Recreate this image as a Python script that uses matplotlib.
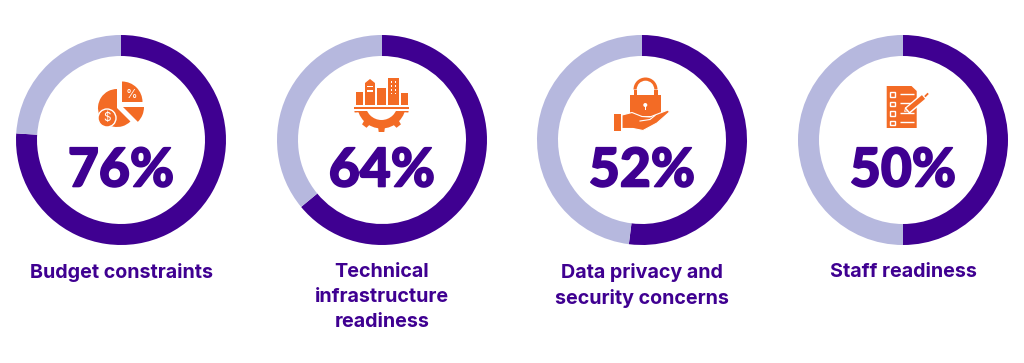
import matplotlib
matplotlib.use("Agg")
import matplotlib.pyplot as plt
import matplotlib.patheffects as pe
from matplotlib.patches import Circle, Polygon, Rectangle, Wedge
import numpy as np

W, H = 1024, 363

percent = [76, 64, 52, 50]
labels = ["Budget constraints", "Technical\ninfrastructure\nreadiness",
          "Data privacy and\nsecurity concerns", "Staff readiness"]

centers_x = [121, 382, 642, 903]
center_y = 140
radius = 105
PURPLE = "#3F0091"
LIGHT = "#B6B8DE"
ORANGE = "#F36B25"

fig = plt.figure(figsize=(W / 100, H / 100), dpi=100, facecolor="white")

# donuts, one small axes each
for cx, p in zip(centers_x, percent):
    ax = fig.add_axes([(cx - radius) / W, 1 - (center_y + radius) / H, 2 * radius / W, 2 * radius / H])
    ax.pie([p, 100 - p], colors=[PURPLE, LIGHT], startangle=90, counterclock=False,
           radius=1, wedgeprops=dict(width=0.2))
    ax.set_xlim(-1, 1)
    ax.set_ylim(-1, 1)

# overlay in pixel coords for text and icons
ov = fig.add_axes([0, 0, 1, 1])
ov.set_xlim(0, W)
ov.set_ylim(H, 0)
ov.axis("off")
ov.patch.set_alpha(0)

for cx, p, lab in zip(centers_x, percent, labels):
    ov.text(cx, 186.5, f"{p}%", ha="center", va="baseline", fontsize=38.5, fontweight=900,
            family="Lato", color=PURPLE,
            path_effects=[pe.withStroke(linewidth=1.2, foreground=PURPLE)])
    ov.text(cx, 263, lab, ha="center", va="top", fontsize=14.2, fontweight="bold",
            family="Inter", color=PURPLE, linespacing=1.5)


def add(patch):
    ov.add_patch(patch)
    return patch


# budget icon
add(Wedge((117, 108), 19, 45, 270, fc=ORANGE, ec="none"))
add(Wedge((122, 102), 20.5, 270, 360, fc=ORANGE, ec="none"))
add(Wedge((123, 107), 21, 0, 45, fc=ORANGE, ec="none"))
add(Circle((107, 118), 9, fc=ORANGE, ec="white", lw=1))
ov.text(107, 118, "$", ha="center", va="center", color="white", fontsize=8.5, family="Inter")
ov.text(131, 95, "%", ha="center", va="center", color="white", fontsize=8.5, family="Inter")

# infrastructure icon
for x0, x1, top in [(355.7, 362.7, 92), (365, 375, 83), (377.3, 386, 88), (387.7, 398.7, 78), (400.7, 407.7, 93)]:
    add(Rectangle((x0, top), x1 - x0, 105 - top, fc=ORANGE, ec="none"))
add(Polygon([(365, 83), (370, 79), (375, 83)], fc=ORANGE, ec="none"))
add(Rectangle((367, 85.5), 6, 1.5, fc="white", ec="none"))
add(Rectangle((367, 90), 6, 1.5, fc="white", ec="none"))
for wx in (390.5, 394.5):
    for wy in (81, 85, 89, 92.5):
        add(Rectangle((wx, wy), 1.8, 1.6, fc="white", ec="none"))
add(Rectangle((354, 106.8), 55, 2.3, fc=ORANGE, ec="none"))
clip = Rectangle((350, 110.5), 64, 30, transform=ov.transData)
gear = add(Wedge((381.5, 104), 24.5, 0, 180, width=8.5, fc=ORANGE, ec="none"))
gear.set_clip_path(clip)
for a in np.radians([12, 52, 90, 128, 168]):
    d = np.array([np.cos(a), np.sin(a)])
    n = np.array([-d[1], d[0]])
    c = np.array([381.5, 104])
    pts = [c + d * 22 + n * 3.6, c + d * 28 + n * 2.8, c + d * 28 - n * 2.8, c + d * 22 - n * 3.6]
    t = add(Polygon(pts, fc=ORANGE, ec="none"))
    t.set_clip_path(clip)

# lock and hand icon
add(Wedge((645.5, 89.5), 12, 180, 360, width=3.2, fc=ORANGE, ec="none"))
add(Rectangle((633.5, 89.5), 3.2, 6, fc=ORANGE, ec="none"))
add(Rectangle((654.3, 89.5), 3.2, 6, fc=ORANGE, ec="none"))
add(Rectangle((630, 94.5), 31, 21, fc=ORANGE, ec="none"))
add(Circle((645.3, 105), 2, fc="white", ec="none"))
add(Rectangle((644.6, 105), 1.4, 4.5, fc="white", ec="none"))
add(Rectangle((614, 114), 6.8, 16.8, fc=ORANGE, ec="none"))
add(Polygon([(622, 115), (632, 112.5), (642, 116.5), (650, 117), (655, 115), (668, 110),
             (669.5, 112), (657, 123), (643, 130.5), (633, 128.5), (622, 128.5)],
            fc=ORANGE, ec="white", lw=0.8))
ov.plot([640, 650, 655], [121, 119.5, 115.5], color="white", lw=0.8)

# checklist icon
add(Polygon([(886.7, 86), (911.5, 86), (916.7, 91), (916.7, 128), (886.7, 128)], fc=ORANGE, ec="none"))
for by, ly in zip([92, 101.5, 111, 120.7], [93.5, 102.7, 112.5, 122.3]):
    add(Rectangle((890, by), 4.5, 4.5, fc=ORANGE, ec="white", lw=1))
    ov.plot([899.5, 913.5], [ly, ly], color="white", lw=1, solid_capstyle="butt")
ov.plot([907, 924], [111, 96.5], color="white", lw=5.5, solid_capstyle="butt")
ov.plot([908, 923.5], [110, 97], color=ORANGE, lw=3.5, solid_capstyle="butt")
add(Polygon([(904.5, 111.5), (905.8, 107.5), (909, 110.5)], fc=ORANGE, ec="white", lw=0.6))
ov.plot([925.5, 927.5], [96, 94], color=ORANGE, lw=1.3)

fig.savefig("out.png", dpi=100)
